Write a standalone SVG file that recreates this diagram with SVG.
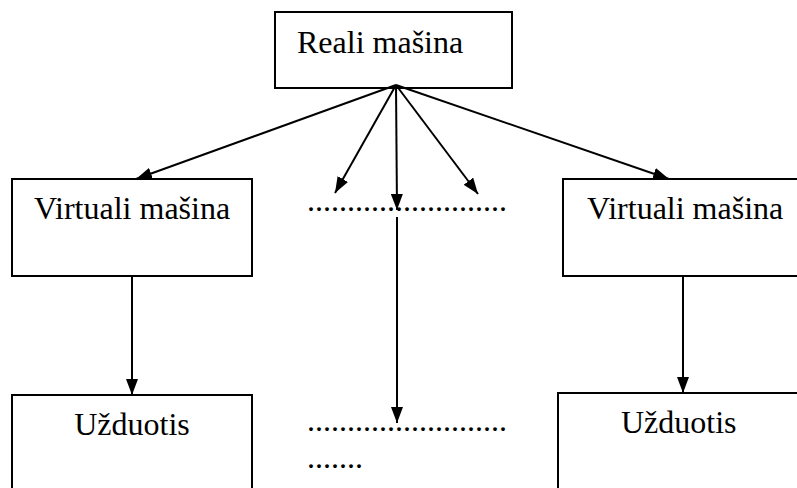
<svg xmlns="http://www.w3.org/2000/svg" width="797" height="488" viewBox="0 0 797 488">
  <style>
    .box { fill: #fff; stroke: #000; stroke-width: 2; }
    .lbl { font-family: "Liberation Serif", "Times New Roman", serif; font-size: 32px; fill: #000; }
    .edge { stroke: #000; stroke-width: 2; fill: none; marker-end: url(#arrow); }
  </style>
  <defs>
    <marker id="arrow" markerUnits="userSpaceOnUse" markerWidth="16" markerHeight="12" viewBox="0 0 16 12" refX="16" refY="6" orient="auto">
      <path d="M0,0 L16,6 L0,12 Z" fill="#000"/>
    </marker>
  </defs>

  <g id="real-machine">
    <rect class="box" x="275" y="12" width="237" height="76"/>
    <text class="lbl" x="297" y="53">Reali mašina</text>
  </g>

  <g id="vm-left">
    <rect class="box" x="12" y="179" width="240" height="97"/>
    <text class="lbl" x="132" y="219" text-anchor="middle">Virtuali mašina</text>
  </g>

  <g id="vm-middle">
    <text class="lbl" x="307" y="211">.........................</text>
  </g>

  <g id="vm-right">
    <rect class="box" x="563" y="179" width="250" height="97"/>
    <text class="lbl" x="587" y="219">Virtuali mašina</text>
  </g>

  <g id="task-left">
    <rect class="box" x="12" y="395" width="240" height="110"/>
    <text class="lbl" x="132" y="435" text-anchor="middle">Užduotis</text>
  </g>

  <g id="task-middle">
    <text class="lbl" x="307" y="431">.........................</text>
    <text class="lbl" x="307" y="468">.......</text>
  </g>

  <g id="task-right">
    <rect class="box" x="558" y="393" width="255" height="110"/>
    <text class="lbl" x="621" y="433">Užduotis</text>
  </g>

  <g id="connectors">
    <line class="edge" x1="396" y1="85" x2="136" y2="179"/>
    <line class="edge" x1="396" y1="85" x2="335" y2="193"/>
    <line class="edge" x1="396" y1="85" x2="397" y2="210"/>
    <line class="edge" x1="396" y1="85" x2="478" y2="194"/>
    <line class="edge" x1="396" y1="85" x2="669" y2="179"/>
    <line class="edge" x1="132" y1="276" x2="132" y2="395"/>
    <line class="edge" x1="397" y1="217" x2="397" y2="423"/>
    <line class="edge" x1="683" y1="276" x2="683" y2="393"/>
  </g>
</svg>
